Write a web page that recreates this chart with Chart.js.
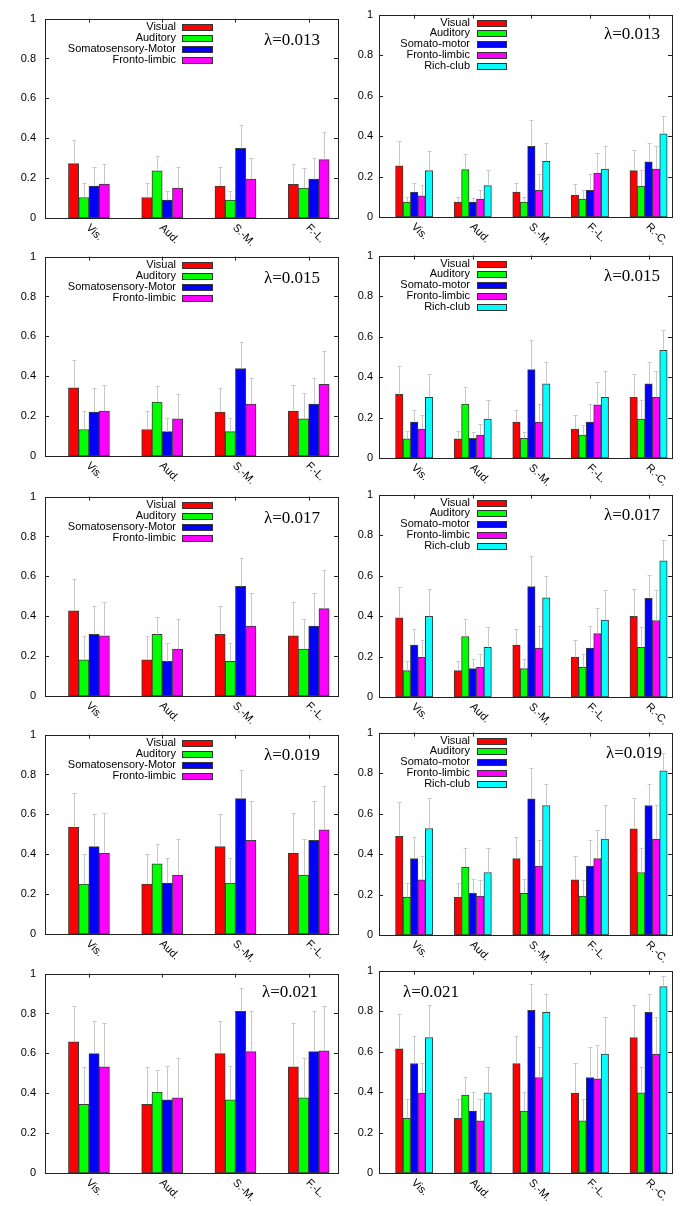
<!DOCTYPE html>
<html><head><meta charset="utf-8">
<script src="https://cdn.jsdelivr.net/npm/chart.js@4.4.0/dist/chart.umd.min.js"></script>
<style>
html,body{margin:0;padding:0;background:#fff;width:692px;height:1206px;overflow:hidden;}
canvas.p{position:absolute;}
</style></head><body>
<script>
// ---------- categories / series / ticks ----------
const catsLeft = ['Vis.','Aud.','S.-M.','F.-L.'];
const catsRight = ['Vis.','Aud.','S.-M.','F.-L.','R.-C.'];
const seriesLeft = ['Visual','Auditory','Somatosensory-Motor','Fronto-limbic'];
const seriesRight = ['Visual','Auditory','Somato-motor','Fronto-limbic','Rich-club'];
const yTickValues = [0, 0.2, 0.4, 0.6, 0.8, 1];
const yTickLabels = ['0', '0.2', '0.4', '0.6', '0.8', '1'];
const lambdas = ['λ=0.013','λ=0.015','λ=0.017','λ=0.019','λ=0.021'];

// ---------- λ=0.013 ----------
const L013_visual = [0.273, 0.103, 0.160, 0.169];
const L013_visual_sd = [0.120, 0.074, 0.097, 0.100];
const L013_auditory = [0.103, 0.236, 0.090, 0.150];
const L013_auditory_sd = [0.072, 0.073, 0.047, 0.100];
const L013_somato = [0.160, 0.090, 0.349, 0.195];
const L013_somato_sd = [0.095, 0.047, 0.117, 0.105];
const L013_fronto = [0.170, 0.150, 0.195, 0.293];
const L013_fronto_sd = [0.100, 0.104, 0.105, 0.136];

const R013_visual = [0.253, 0.074, 0.123, 0.107, 0.229];
const R013_visual_sd = [0.124, 0.025, 0.046, 0.054, 0.100];
const R013_auditory = [0.074, 0.234, 0.074, 0.089, 0.153];
const R013_auditory_sd = [0.025, 0.078, 0.025, 0.043, 0.079];
const R013_somato = [0.123, 0.074, 0.349, 0.132, 0.273];
const R013_somato_sd = [0.046, 0.021, 0.128, 0.079, 0.092];
const R013_fronto = [0.105, 0.089, 0.132, 0.217, 0.237];
const R013_fronto_sd = [0.053, 0.043, 0.082, 0.100, 0.113];
const R013_rich = [0.229, 0.155, 0.275, 0.237, 0.411];
const R013_rich_sd = [0.098, 0.079, 0.092, 0.112, 0.089];

// ---------- λ=0.015 ----------
const L015_visual = [0.342, 0.133, 0.220, 0.225];
const L015_visual_sd = [0.140, 0.092, 0.119, 0.132];
const L015_auditory = [0.133, 0.271, 0.122, 0.186];
const L015_auditory_sd = [0.091, 0.081, 0.069, 0.128];
const L015_somato = [0.220, 0.122, 0.439, 0.260];
const L015_somato_sd = [0.119, 0.069, 0.133, 0.133];
const L015_fronto = [0.225, 0.186, 0.260, 0.360];
const L015_fronto_sd = [0.132, 0.127, 0.133, 0.166];

const R015_visual = [0.314, 0.095, 0.177, 0.143, 0.300];
const R015_visual_sd = [0.141, 0.038, 0.061, 0.069, 0.115];
const R015_auditory = [0.095, 0.266, 0.097, 0.113, 0.192];
const R015_auditory_sd = [0.038, 0.087, 0.033, 0.051, 0.095];
const R015_somato = [0.177, 0.097, 0.437, 0.177, 0.366];
const R015_somato_sd = [0.059, 0.033, 0.146, 0.091, 0.109];
const R015_fronto = [0.143, 0.113, 0.177, 0.263, 0.300];
const R015_fronto_sd = [0.067, 0.053, 0.091, 0.113, 0.132];
const R015_rich = [0.300, 0.192, 0.366, 0.300, 0.532];
const R015_rich_sd = [0.114, 0.094, 0.109, 0.132, 0.100];

// ---------- λ=0.017 ----------
const L017_visual = [0.427, 0.181, 0.309, 0.302];
const L017_visual_sd = [0.159, 0.119, 0.141, 0.168];
const L017_auditory = [0.181, 0.309, 0.174, 0.235];
const L017_auditory_sd = [0.119, 0.087, 0.094, 0.153];
const L017_somato = [0.309, 0.174, 0.550, 0.351];
const L017_somato_sd = [0.141, 0.094, 0.140, 0.166];
const L017_fronto = [0.302, 0.235, 0.351, 0.438];
const L017_fronto_sd = [0.168, 0.153, 0.166, 0.194];

const R017_visual = [0.391, 0.130, 0.257, 0.196, 0.398];
const R017_visual_sd = [0.152, 0.049, 0.079, 0.087, 0.137];
const R017_auditory = [0.130, 0.299, 0.140, 0.146, 0.245];
const R017_auditory_sd = [0.049, 0.086, 0.046, 0.068, 0.100];
const R017_somato = [0.257, 0.140, 0.546, 0.242, 0.488];
const R017_somato_sd = [0.079, 0.046, 0.151, 0.108, 0.114];
const R017_fronto = [0.196, 0.146, 0.242, 0.313, 0.378];
const R017_fronto_sd = [0.087, 0.068, 0.108, 0.127, 0.153];
const R017_rich = [0.398, 0.245, 0.490, 0.380, 0.673];
const R017_rich_sd = [0.137, 0.100, 0.110, 0.151, 0.103];

// ---------- λ=0.019 ----------
const L019_visual = [0.535, 0.250, 0.438, 0.406];
const L019_visual_sd = [0.172, 0.151, 0.162, 0.203];
const L019_auditory = [0.250, 0.352, 0.255, 0.296];
const L019_auditory_sd = [0.151, 0.097, 0.127, 0.179];
const L019_somato = [0.438, 0.255, 0.679, 0.470];
const L019_somato_sd = [0.162, 0.127, 0.142, 0.198];
const L019_fronto = [0.405, 0.296, 0.470, 0.523];
const L019_fronto_sd = [0.204, 0.179, 0.198, 0.220];

const R019_visual = [0.488, 0.186, 0.377, 0.273, 0.525];
const R019_visual_sd = [0.168, 0.071, 0.108, 0.115, 0.153];
const R019_auditory = [0.186, 0.336, 0.206, 0.192, 0.309];
const R019_auditory_sd = [0.071, 0.093, 0.069, 0.081, 0.119];
const R019_somato = [0.377, 0.206, 0.673, 0.340, 0.640];
const R019_somato_sd = [0.108, 0.069, 0.153, 0.127, 0.108];
const R019_fronto = [0.273, 0.192, 0.340, 0.377, 0.474];
const R019_fronto_sd = [0.115, 0.081, 0.127, 0.143, 0.166];
const R019_rich = [0.526, 0.309, 0.640, 0.474, 0.811];
const R019_rich_sd = [0.152, 0.119, 0.108, 0.166, 0.089];

// ---------- λ=0.021 ----------
const L021_visual = [0.658, 0.345, 0.599, 0.533];
const L021_visual_sd = [0.181, 0.185, 0.163, 0.219];
const L021_auditory = [0.345, 0.406, 0.367, 0.377];
const L021_auditory_sd = [0.185, 0.109, 0.168, 0.202];
const L021_somato = [0.599, 0.367, 0.811, 0.609];
const L021_somato_sd = [0.163, 0.168, 0.118, 0.205];
const L021_fronto = [0.533, 0.377, 0.609, 0.613];
const L021_fronto_sd = [0.219, 0.202, 0.205, 0.227];

const R021_visual = [0.613, 0.270, 0.541, 0.395, 0.669];
const R021_visual_sd = [0.173, 0.097, 0.137, 0.148, 0.161];
const R021_auditory = [0.270, 0.385, 0.306, 0.258, 0.396];
const R021_auditory_sd = [0.097, 0.090, 0.095, 0.109, 0.129];
const R021_somato = [0.541, 0.306, 0.804, 0.472, 0.794];
const R021_somato_sd = [0.137, 0.095, 0.130, 0.153, 0.088];
const R021_fronto = [0.395, 0.258, 0.472, 0.465, 0.587];
const R021_fronto_sd = [0.148, 0.109, 0.153, 0.167, 0.183];
const R021_rich = [0.669, 0.396, 0.794, 0.587, 0.921];
const R021_rich_sd = [0.161, 0.129, 0.088, 0.183, 0.053];

// ---------- styling ----------
const colors = ['#ff0000', '#00ff00', '#0000ff', '#ff00ff', '#00ffff'];
const FONT = '"Liberation Sans", Arial, sans-serif';
const SERIF = '"Liberation Serif", "Times New Roman", serif';

const panels = [
  {side:'L', top:15,  lam:0, legend:true, lamPos:'r', lamDx:-18, lamDy:22,
   vals:[L013_visual,L013_auditory,L013_somato,L013_fronto], sds:[L013_visual_sd,L013_auditory_sd,L013_somato_sd,L013_fronto_sd]},
  {side:'R', top:14,  lam:0, legend:true, lamPos:'r', lamDx:-12, lamDy:20,
   vals:[R013_visual,R013_auditory,R013_somato,R013_fronto,R013_rich], sds:[R013_visual_sd,R013_auditory_sd,R013_somato_sd,R013_fronto_sd,R013_rich_sd]},
  {side:'L', top:253, lam:1, legend:true, lamPos:'r', lamDx:-18, lamDy:22,
   vals:[L015_visual,L015_auditory,L015_somato,L015_fronto], sds:[L015_visual_sd,L015_auditory_sd,L015_somato_sd,L015_fronto_sd]},
  {side:'R', top:255, lam:1, legend:true, lamPos:'r', lamDx:-12, lamDy:21,
   vals:[R015_visual,R015_auditory,R015_somato,R015_fronto,R015_rich], sds:[R015_visual_sd,R015_auditory_sd,R015_somato_sd,R015_fronto_sd,R015_rich_sd]},
  {side:'L', top:493, lam:2, legend:true, lamPos:'r', lamDx:-18, lamDy:22,
   vals:[L017_visual,L017_auditory,L017_somato,L017_fronto], sds:[L017_visual_sd,L017_auditory_sd,L017_somato_sd,L017_fronto_sd]},
  {side:'R', top:494, lam:2, legend:true, lamPos:'r', lamDx:-12, lamDy:21,
   vals:[R017_visual,R017_auditory,R017_somato,R017_fronto,R017_rich], sds:[R017_visual_sd,R017_auditory_sd,R017_somato_sd,R017_fronto_sd,R017_rich_sd]},
  {side:'L', top:731, lam:3, legend:true, lamPos:'r', lamDx:-18, lamDy:21,
   vals:[L019_visual,L019_auditory,L019_somato,L019_fronto], sds:[L019_visual_sd,L019_auditory_sd,L019_somato_sd,L019_fronto_sd]},
  {side:'R', top:732, lam:3, legend:true, lamPos:'r', lamDx:-10, lamDy:21,
   vals:[R019_visual,R019_auditory,R019_somato,R019_fronto,R019_rich], sds:[R019_visual_sd,R019_auditory_sd,R019_somato_sd,R019_fronto_sd,R019_rich_sd]},
  {side:'L', top:970, lam:4, legend:false, lamPos:'r', lamDx:-20, lamDy:19,
   vals:[L021_visual,L021_auditory,L021_somato,L021_fronto], sds:[L021_visual_sd,L021_auditory_sd,L021_somato_sd,L021_fronto_sd]},
  {side:'R', top:970, lam:4, legend:false, lamPos:'l', lamDx:24, lamDy:22,
   vals:[R021_visual,R021_auditory,R021_somato,R021_fronto,R021_rich], sds:[R021_visual_sd,R021_auditory_sd,R021_somato_sd,R021_fronto_sd,R021_rich_sd]}
];

function panelPlugin(p, cats, names, L) {
  return {
    id: 'panelDecor',
    beforeDatasetsDraw(chart) {
      const ctx = chart.ctx, ca = chart.chartArea;
      const xs = chart.scales.x, ys = chart.scales.y;
      ctx.save();
      ctx.strokeStyle = '#222';
      ctx.lineWidth = 1;
      ctx.beginPath();
      yTickValues.forEach(v => {
        const y = Math.round(ys.getPixelForValue(v)) + 0.5;
        ctx.moveTo(ca.left, y); ctx.lineTo(ca.left + 4, y);
        ctx.moveTo(ca.right, y); ctx.lineTo(ca.right - 4, y);
      });
      cats.forEach((c, i) => {
        const x = Math.round(xs.getPixelForValue(i)) + 0.5;
        ctx.moveTo(x, ca.top); ctx.lineTo(x, ca.top + 4);
        ctx.moveTo(x, ca.bottom); ctx.lineTo(x, ca.bottom - 4);
      });
      ctx.stroke();
      ctx.restore();
    },
    afterDatasetsDraw(chart) {
      const ctx = chart.ctx, ca = chart.chartArea;
      const xs = chart.scales.x, ys = chart.scales.y;
      ctx.save();
      // error bars
      ctx.strokeStyle = '#c8c8c8';
      ctx.lineWidth = 1;
      ctx.beginPath();
      chart.data.datasets.forEach((ds, k) => {
        const meta = chart.getDatasetMeta(k);
        meta.data.forEach((el, i) => {
          const v = ds.data[i].y, s = ds.sd[i];
          const yT = Math.round(ys.getPixelForValue(v + s)) + 0.5;
          const x = Math.round(el.x) + 0.5;
          ctx.moveTo(x, el.y); ctx.lineTo(x, yT);
          ctx.moveTo(x - 2, yT); ctx.lineTo(x + 2, yT);
        });
      });
      ctx.stroke();
      // frame
      ctx.strokeStyle = '#222';
      ctx.strokeRect(Math.round(ca.left) + 0.5, Math.round(ca.top) + 0.5,
                     Math.round(ca.right - ca.left), Math.round(ca.bottom - ca.top));
      // x labels (rotated)
      ctx.fillStyle = '#000';
      ctx.font = '11px ' + FONT;
      ctx.textAlign = 'left';
      ctx.textBaseline = 'middle';
      cats.forEach((c, i) => {
        const x = xs.getPixelForValue(i);
        ctx.save();
        ctx.translate(x - 1, ca.bottom + 8);
        ctx.rotate(Math.PI / 4);
        ctx.fillText(c, 0, 0);
        ctx.restore();
      });
      // legend
      if (p.legend) {
        const textRight = ca.left + (L ? 131 : 91);
        const boxL = ca.left + (L ? 137 : 98);
        const boxW = L ? 30 : 29;
        const step = L ? 11 : 10.8;
        chart.data.datasets.forEach((ds, k) => {
          const y = ca.top + 8 + k * step;
          ctx.fillStyle = '#000';
          ctx.textAlign = 'right';
          ctx.fillText(ds.label, textRight, y);
          const by = Math.round(y - 3);
          ctx.fillStyle = ds.backgroundColor;
          ctx.fillRect(boxL, by, boxW, 6);
          ctx.strokeStyle = '#333';
          ctx.strokeRect(boxL + 0.5, by + 0.5, boxW, 6);
        });
      }
      // lambda
      ctx.fillStyle = '#000';
      ctx.font = '17px ' + SERIF;
      ctx.textBaseline = 'middle';
      if (p.lamPos === 'r') {
        ctx.textAlign = 'right';
        ctx.fillText(lambdas[p.lam], ca.right + p.lamDx, ca.top + p.lamDy);
      } else {
        ctx.textAlign = 'left';
        ctx.fillText(lambdas[p.lam], ca.left + p.lamDx, ca.top + p.lamDy);
      }
      ctx.restore();
    }
  };
}

function makeChart(p) {
  const L = p.side === 'L';
  const W = 346, padTop = 12, plotH = 203, bottomM = 34;
  const plotLeft = L ? 45 : 33, plotRight = L ? 338 : 326;
  const cv = document.createElement('canvas');
  cv.width = W; cv.height = padTop + plotH + bottomM;
  cv.className = 'p';
  cv.style.left = (L ? 0 : 346) + 'px';
  cv.style.top = (p.top - padTop) + 'px';
  document.body.appendChild(cv);
  const cats = L ? catsLeft : catsRight;
  const names = L ? seriesLeft : seriesRight;
  const datasets = names.map((n, k) => ({
    label: n,
    data: p.vals[k].map((v, i) => ({x: i, y: v})),
    sd: p.sds[k],
    backgroundColor: colors[k],
    borderColor: '#3a3a3a',
    borderWidth: 1,
    borderSkipped: false,
    barThickness: L ? 10.25 : 7.45
  }));
  new Chart(cv, {
    type: 'bar',
    data: {datasets},
    options: {
      responsive: false,
      animation: false,
      devicePixelRatio: 1,
      layout: {padding: {left: 0, right: W - plotRight, top: padTop, bottom: 0}},
      plugins: {legend: {display: false}, tooltip: {enabled: false}},
      scales: {
        x: {
          type: 'linear', min: -0.6, max: cats.length - 0.6, offset: false,
          grid: {display: false, drawTicks: false}, border: {display: false},
          ticks: {display: false},
          afterBuildTicks: s => { s.ticks = cats.map((c, i) => ({value: i})); },
          afterFit: s => { s.height = bottomM; }
        },
        y: {
          min: 0, max: 1,
          grid: {display: false, drawTicks: false}, border: {display: false},
          ticks: {padding: L ? 9 : 6, color: '#000', font: {family: FONT, size: 11},
                  callback: (v, i) => yTickLabels[i]},
          afterBuildTicks: s => { s.ticks = yTickValues.map(v => ({value: v})); },
          afterFit: s => { s.width = plotLeft; }
        }
      }
    },
    plugins: [panelPlugin(p, cats, names, L)]
  });
}

panels.forEach(makeChart);
</script>
</body></html>
